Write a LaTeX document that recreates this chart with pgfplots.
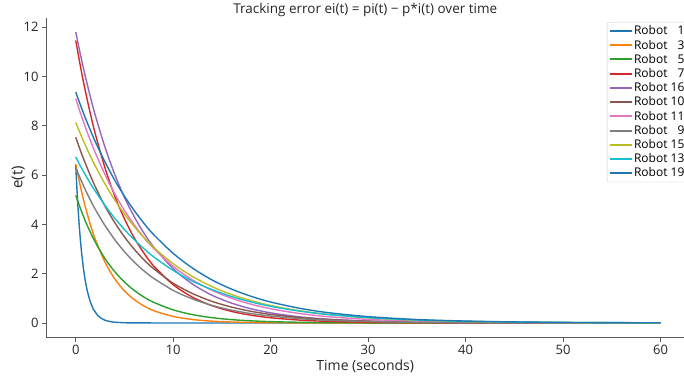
\documentclass[border=0pt]{standalone}
\usepackage{fontspec}
\setmainfont{Open Sans}
\usepackage{pgfplots}
\usepackage{pgfplotstable}
\pgfplotsset{compat=1.18}
\definecolor{c0}{HTML}{1F77B4}
\definecolor{c1}{HTML}{FF7F0E}
\definecolor{c2}{HTML}{2CA02C}
\definecolor{c3}{HTML}{D62728}
\definecolor{c4}{HTML}{9467BD}
\definecolor{c5}{HTML}{8C564B}
\definecolor{c6}{HTML}{E377C2}
\definecolor{c7}{HTML}{7F7F7F}
\definecolor{c8}{HTML}{BCBD22}
\definecolor{c9}{HTML}{17BECF}
\pgfplotstableread{
t r1
0 6.4
0.1 5.59
0.2 4.89
0.3 4.27
0.4 3.73
0.5 3.26
0.6 2.85
0.8 2.17
1.0 1.66
1.2 1.27
1.5 0.845
1.8 0.563
2.2 0.328
2.6 0.191
3.0 0.111
3.5 0.057
4 0.029
5 0.0075
6 0.002
8 0.0001
60 0
}\robotone
\pgfplotstableread{
t r3 r5 r7 r16 r10 r11 r9 r15 r13 r19
0 6.45 5.18 11.46 11.8 7.53 9.1 6.3 8.13 6.73 9.36
0.5 5.50 4.62 10.37 10.85 6.97 8.49 5.83 7.65 6.35 8.82
1 4.68 4.12 9.38 9.98 6.46 7.93 5.39 7.20 6.00 8.30
1.5 3.99 3.68 8.49 9.17 5.98 7.40 4.99 6.77 5.66 7.82
2 3.40 3.28 7.68 8.43 5.53 6.91 4.61 6.37 5.35 7.36
3 2.47 2.61 6.29 7.13 4.74 6.02 3.95 5.64 4.77 6.53
4 1.79 2.08 5.15 6.03 4.07 5.24 3.38 4.99 4.25 5.79
5 1.30 1.66 4.22 5.09 3.49 4.56 2.89 4.42 3.79 5.14
6 0.946 1.32 3.45 4.31 2.99 3.98 2.47 3.91 3.38 4.56
7 0.687 1.05 2.83 3.64 2.56 3.46 2.11 3.46 3.01 4.04
8 0.499 0.836 2.31 3.08 2.20 3.02 1.81 3.06 2.68 3.58
10 0.263 0.530 1.55 2.20 1.61 2.29 1.32 2.40 2.13 2.82
12 0.139 0.336 1.04 1.57 1.19 1.74 0.969 1.88 1.69 2.22
14 0.073 0.213 0.697 1.12 0.872 1.32 0.709 1.47 1.35 1.74
16 0.039 0.135 0.467 0.803 0.641 1.00 0.519 1.15 1.07 1.37
18 0.020 0.0855 0.313 0.574 0.471 0.759 0.380 0.905 0.849 1.08
20 0.011 0.054 0.210 0.410 0.346 0.576 0.278 0.709 0.675 0.849
23 0.004 0.027 0.115 0.247 0.218 0.381 0.174 0.491 0.478 0.592
26 0.0015 0.014 0.063 0.150 0.137 0.252 0.109 0.341 0.339 0.413
30 0.0004 0.0055 0.028 0.076 0.074 0.145 0.058 0.209 0.214 0.256
35 0 0.0018 0.010 0.033 0.034 0.073 0.027 0.114 0.120 0.140
40 0 0.0006 0.004 0.014 0.016 0.036 0.012 0.062 0.068 0.077
45 0 0 0.001 0.006 0.007 0.018 0.006 0.034 0.038 0.042
50 0 0 0 0.0026 0.003 0.009 0.003 0.018 0.021 0.023
55 0 0 0 0.001 0.0016 0.005 0.001 0.010 0.012 0.013
60 0 0 0 0 0.0007 0.002 0.001 0.005 0.007 0.007
}\robots
\begin{document}
\begin{tikzpicture}
\begin{axis}[
  name=ax,
  scale only axis,
  width=637.5pt, height=320pt,
  xmin=-3, xmax=62.4, ymin=-0.59, ymax=12.39,
  axis x line*=bottom, axis y line*=left,
  axis line style={black!65, line width=0.8pt},
  tick align=outside,
  major tick length=4.5pt,
  tick style={black!65, line width=0.8pt},
  xtick={0,10,20,30,40,50,60},
  ytick={0,2,4,6,8,10,12},
  /pgf/number format/assume math mode=true,
  ticklabel style={font=\fontsize{13}{15}\selectfont, text=black!85},
  xlabel={Time (seconds)},
  ylabel={e(t)},
  xlabel style={font=\fontsize{14}{16}\selectfont, text=black!85, yshift=2pt},
  ylabel style={font=\fontsize{15}{17}\selectfont, text=black!85, yshift=-8pt},
  title={Tracking error ei(t) = pi(t) − p*i(t) over time},
  title style={font=\fontsize{13.5}{15}\selectfont, text=black!85, yshift=-9pt},
  legend style={at={(0.879,0.986)}, anchor=north west, font=\fontsize{12}{13}\selectfont,
    draw=black!20, rounded corners=2pt, inner sep=1.5pt, row sep=-0.4pt,
    nodes={inner xsep=1.5pt}},
  legend cell align=left,
  legend image code/.code={\draw[#1, line width=2pt] plot coordinates {(0pt,0pt) (11pt,0pt) (22pt,0pt)};},
]
\addplot[c0, line width=1.4pt] table[x=t,y=r1] {\robotone};
\addlegendentry{Robot \hphantom{0}1}
\addplot[c1, line width=1.4pt, smooth] table[x=t,y=r3] {\robots};
\addlegendentry{Robot \hphantom{0}3}
\addplot[c2, line width=1.4pt, smooth] table[x=t,y=r5] {\robots};
\addlegendentry{Robot \hphantom{0}5}
\addplot[c3, line width=1.4pt, smooth] table[x=t,y=r7] {\robots};
\addlegendentry{Robot \hphantom{0}7}
\addplot[c4, line width=1.4pt, smooth] table[x=t,y=r16] {\robots};
\addlegendentry{Robot 16}
\addplot[c5, line width=1.4pt, smooth] table[x=t,y=r10] {\robots};
\addlegendentry{Robot 10}
\addplot[c6, line width=1.4pt, smooth] table[x=t,y=r11] {\robots};
\addlegendentry{Robot 11}
\addplot[c7, line width=1.4pt, smooth] table[x=t,y=r9] {\robots};
\addlegendentry{Robot \hphantom{0}9}
\addplot[c8, line width=1.4pt, smooth] table[x=t,y=r15] {\robots};
\addlegendentry{Robot 15}
\addplot[c9, line width=1.4pt, smooth] table[x=t,y=r13] {\robots};
\addlegendentry{Robot 13}
\addplot[c0, line width=1.4pt, smooth] table[x=t,y=r19] {\robots};
\addlegendentry{Robot 19}
\end{axis}
\pgfresetboundingbox
\path[use as bounding box] ([xshift=-46.5pt,yshift=-40.5pt]ax.south west) rectangle ++(684pt,378pt);
\end{tikzpicture}
\end{document}
